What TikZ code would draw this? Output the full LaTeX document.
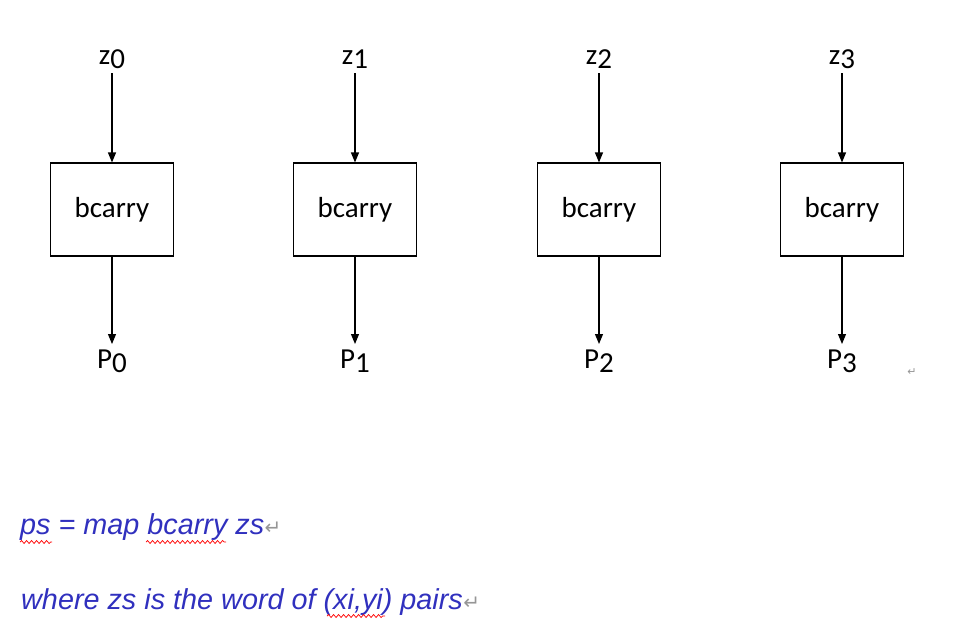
\documentclass[tikz,border=0pt]{standalone}
\usepackage{fontspec}
\setmainfont{Carlito}
\newfontfamily\arialf{Liberation Sans}
\newfontfamily\symf{DejaVu Sans}
\usetikzlibrary{arrows.meta,decorations.pathmorphing}
\definecolor{txtblue}{RGB}{48,48,190}
\definecolor{retgray}{RGB}{150,150,150}
\tikzset{
  blk/.style={draw, line width=1.1pt, minimum width=123pt, minimum height=93pt, font=\fontsize{29}{32}\selectfont, inner sep=0pt},
  lbl/.style={font=\fontsize{29}{32}\selectfont, inner sep=0pt},
  conn/.style={line width=1.1pt, -{Triangle[length=10pt,width=8pt]}},
  bluetxt/.style={font=\arialf\itshape\fontsize{28.8}{32}\selectfont, text=txtblue, anchor=base west, inner sep=0pt},
  squig/.style={red, line width=0.7pt, decorate, decoration={snake, amplitude=1.5pt, segment length=5pt}},
  retmark/.style={font=\symf\fontsize{20}{22}\selectfont, text=retgray, inner sep=0pt}
}
\begin{document}
\begin{tikzpicture}[x=1pt,y=-1pt]
\useasboundingbox (0,0) rectangle (967,619);
\foreach \i/\x in {0/112,1/355,2/599,3/842}{
  \node[lbl] (z\i) at (\x,59) {z\raisebox{-4pt}{\i}};
  \node[blk] (b\i) at (\x,209.5) {bcarry};
  \node[lbl] (p\i) at (\x,361) {P\raisebox{-4pt}{\i}};
  \draw[conn] (z\i.south |- 0,73) -- (b\i.north);
  \draw[conn] (b\i.south) -- (\x,344);
}
\node[retmark] (r0) at (912,372) {\fontsize{11}{12}\selectfont ↵};
\node[bluetxt] (t1) at (20,534) {ps = map bcarry zs};
\node[retmark, anchor=base west] (r1) at (t1.base east) {↵};
\node[bluetxt] (t2) at (21,609) {where zs is the word of (xi,yi) pairs};
\node[retmark, anchor=base west] (r2) at (t2.base east) {↵};
\draw[squig] (20,542) -- (52,542);
\draw[squig] (146,542) -- (226,542);
\draw[squig] (327,616) -- (385,616);
\end{tikzpicture}
\end{document}
